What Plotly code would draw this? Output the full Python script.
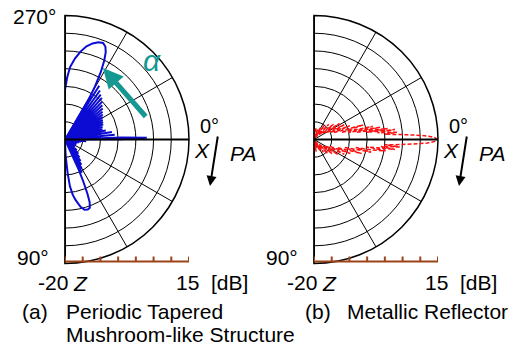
import plotly.graph_objects as go

W, H = 509, 347

# ---------------- data ----------------
R_MIN, R_MAX = -20, 15          # radial range [dB]
R_STEP = 5
ANG_STEP = 30

# (a) Periodic tapered mushroom-like structure (blue, solid)
BLUE_THETA = [
    -90, -88, -86, -83, -80, -77, -74, -71, -68.5, -66.5, -65, -63.5, -62, -60.5, -59.5,
    -59, -57.5, -56, -54.5, -53, -51.5, -50, -48.5, -47, -45.5, -44, -42.5, -41, -39.5,
    -38, -36.5, -35, -33.5, -32, -30.5, -29, -27.5, -26, -24.5, -23, -21.5, -20, -18.5,
    -17, -15.5, -14, -12.5, -11, -9, -7.5, -5.5, -4, -3, -2, -1.2, -0.3, 0.5,
    1.5, 3, 4.5, 6, 8, 10, 12.5, 15, 18, 21, 24, 27, 30, 33, 36, 39, 42, 44.5, 47, 49,
    51, 52.5, 54, 55.5, 57, 58.5, 60, 61.5, 63, 64.5, 65.5,
    66.5, 67.5, 68.5, 70, 72, 74.5, 77, 80, 82, 84, 85.5, 87.5, 90,
]
BLUE_R = [
    -6, -2.5, 0.5, 3, 5.2, 7, 8.2, 9.0, 9.3, 8.6, 7.2, 4.8, 1.5, -2.8, -7,
    -19, -2.0, -20, -3.0, -20, -3.8, -20, -4.3, -20, -5.0, -20, -5.7, -20, -6.2,
    -20, -6.8, -20, -7.2, -20, -7.6, -20, -8.0, -20, -8.2, -20, -8.4, -20, -8.8,
    -20, -9.0, -20, -8.2, -20, -6.6, -20, -5.9, -20, -20, -4, 3.1, -4, -20,
    -15, -20, -14, -20, -15.5, -20, -16, -20, -16.5, -20, -16.5, -20, -17, -20, -16.5, -20, -15.5, -20, -14.5, -20,
    -13.5, -20, -12.5, -20, -11.5, -20, -10.5, -20, -9.5, -20, -11,
    -7, -3.5, -1, 0.5, 0.8, 0.6, -0.5, -2.6, -4.2, -6.7, -10.5, -15, -19,
]

# (b) Metallic reflector (red, dashed)
RED_THETA = [
    -90, -85, -80, -75, -70, -66, -62, -58, -54, -50, -46, -42, -38, -35, -32, -29, -26,
    -23.5, -21, -19, -16.5, -14.5, -12.5, -11.5, -10.5, -9.5, -8.5, -7.8, -7, -6, -5,
    -4.2, -3.4, -2.6, -1.8, -0.9, 0, 0.9, 1.8, 2.6, 3.4, 4.2, 5, 6, 7, 8, 9, 10, 11,
    12.5, 14.5, 16.5, 19, 21, 23.5, 26, 29, 32, 35, 38, 42, 46, 50, 54, 58, 62, 66, 70,
    75, 80, 85, 90,
]
RED_R = [
    -17, -20, -16.5, -20, -17, -20, -16, -19, -15, -19, -14, -18, -13, -17, -11.5, -16, -10.5,
    -15, -9.2, -14, -5.5, -12, -3, -10, -1, -8, 1, -5, 3, -2, 3.5,
    0, 4, 8, 12, 14.2, 14.7, 14.2, 12, 8, 4.3, 0, 4.3, -1, 3, -5, 0.5, -2.5, -8,
    -3.5, -11, -6, -13, -9, -15, -10.5, -16, -12, -17, -13.5, -18, -14.5, -19, -15.5, -19, -16.5, -20, -17.5,
    -20, -16.5, -20, -17,
]

# ---------------- helpers ----------------
def px(x):
    return x / W

def py(y):
    return 1 - y / H

FONT = "Liberation Sans, Arial, sans-serif"
BROWN = "#9c4418"
TEAL = "#159892"

fig = go.Figure()

panels = [
    dict(key="polar", cx=65, theta=BLUE_THETA, r=BLUE_R,
         line=dict(color="#0b0bd4", width=2)),
    dict(key="polar2", cx=314, theta=RED_THETA, r=RED_R,
         line=dict(color="#ff1010", width=1.5, dash="4px,2px")),
]
CY, RAD = 139.5, 124

for p in panels:
    sub = p["key"]
    # sector edge (frame) line along 270°-90°
    fig.add_trace(go.Scatterpolar(
        r=[R_MAX, R_MIN, R_MAX], theta=[-90, 0, 90], mode="lines",
        line=dict(color="black", width=2), subplot=sub, hoverinfo="skip",
        showlegend=False))
    fig.add_trace(go.Scatterpolar(
        r=p["r"], theta=p["theta"], mode="lines", line=p["line"],
        subplot=sub, showlegend=False))
    fig.update_layout({sub: dict(
        domain=dict(x=[px(p["cx"]), px(p["cx"] + RAD)],
                    y=[py(CY + RAD), py(CY - RAD)]),
        sector=[-90, 90],
        bgcolor="rgba(0,0,0,0)",
        angularaxis=dict(rotation=0, direction="clockwise", dtick=ANG_STEP, tick0=0,
                         showticklabels=False, ticks="", gridcolor="black",
                         gridwidth=1, showline=True, linecolor="black", linewidth=1.5),
        radialaxis=dict(range=[R_MIN, R_MAX], tick0=R_MIN, dtick=R_STEP,
                        showticklabels=False, ticks="", gridcolor="black",
                        gridwidth=1, showline=True, linecolor="black", linewidth=2,
                        angle=0),
    )})

# brown dB scale bars under each plot (cartesian x axes, drawn with shapes on top)
AX_Y = 261.5
TICK_LEN = 5
shapes = []
for i, p in enumerate(panels):
    xa = "xaxis" if i == 0 else "xaxis2"
    ya = "yaxis" if i == 0 else "yaxis2"
    xr = "x" if i == 0 else "x2"
    fig.add_trace(go.Scatter(x=[R_MIN, R_MAX], y=[0, 0], mode="lines",
                             line=dict(width=0), hoverinfo="skip", showlegend=False,
                             xaxis=xr, yaxis="y" if i == 0 else "y2"))
    fig.update_layout({
        xa: dict(domain=[px(p["cx"]), px(p["cx"] + RAD)], range=[R_MIN, R_MAX],
                 anchor="y" if i == 0 else "y2", visible=False, fixedrange=True),
        ya: dict(domain=[py(AX_Y), py(AX_Y) + 0.02], visible=False,
                 anchor="x" if i == 0 else "x2", fixedrange=True),
    })
    shapes.append(dict(type="line", xref=xr, yref="paper", x0=R_MIN, x1=R_MAX,
                       y0=py(AX_Y), y1=py(AX_Y), layer="above",
                       line=dict(color=BROWN, width=2.2)))
    v = R_MIN
    while v <= R_MAX:
        shapes.append(dict(type="line", xref=xr, yref="paper", x0=v, x1=v,
                           y0=py(AX_Y), y1=py(AX_Y - TICK_LEN), layer="above",
                           line=dict(color=BROWN, width=2)))
        v += R_STEP

ann = []

def text(s, x, y, size=21, color="black", xanchor="center"):
    ann.append(dict(text=s, x=px(x), y=py(y), xref="paper", yref="paper",
                    showarrow=False, xanchor=xanchor, yanchor="middle",
                    font=dict(family=FONT, size=size, color=color)))

for i, p in enumerate(panels):
    off = p["cx"] - 65
    if i == 0:
        text("270°", 34, 17)
    text("0°", 209 + off, 126, size=20)
    text("<i>X</i>", 202 + off, 150, size=21)
    text("<i>PA</i>", 243 + off, 153, size=21)
    text("90°", 33 + off, 257)
    text("-20", 53 + off, 282)
    text("<i>Z</i>", 80 + off, 283)
    text("15", 187 + off, 282)
    text("[dB]", 229 + off, 282)
    # black arrow
    ann.append(dict(text="", x=px(210 + off), y=py(186), xref="paper", yref="paper",
                    ax=8, ay=-51, showarrow=True, arrowhead=2, arrowsize=1,
                    arrowwidth=2, arrowcolor="black"))

text("(a)", 35, 311)
text("Periodic Tapered", 64, 311, xanchor="left")
text("Mushroom-like Structure", 64, 334, xanchor="left")
text("(b)", 318, 311)
text("Metallic Reflector", 345, 311, xanchor="left")

# teal alpha arrow
ann.append(dict(text="", x=px(103), y=py(68), xref="paper", yref="paper",
                ax=44, ay=50, showarrow=True, arrowhead=2, arrowsize=0.8,
                arrowwidth=5, arrowcolor=TEAL))
text("<i>α</i>", 152, 60, size=30, color=TEAL)

fig.update_layout(width=W, height=H, autosize=False,
                  margin=dict(l=0, r=0, t=0, b=0),
                  paper_bgcolor="white", plot_bgcolor="rgba(0,0,0,0)",
                  showlegend=False, annotations=ann, shapes=shapes)

fig.write_html("out.html", config={"displayModeBar": False},
               post_script="document.body.style.margin='0';document.body.style.overflow='hidden';")
